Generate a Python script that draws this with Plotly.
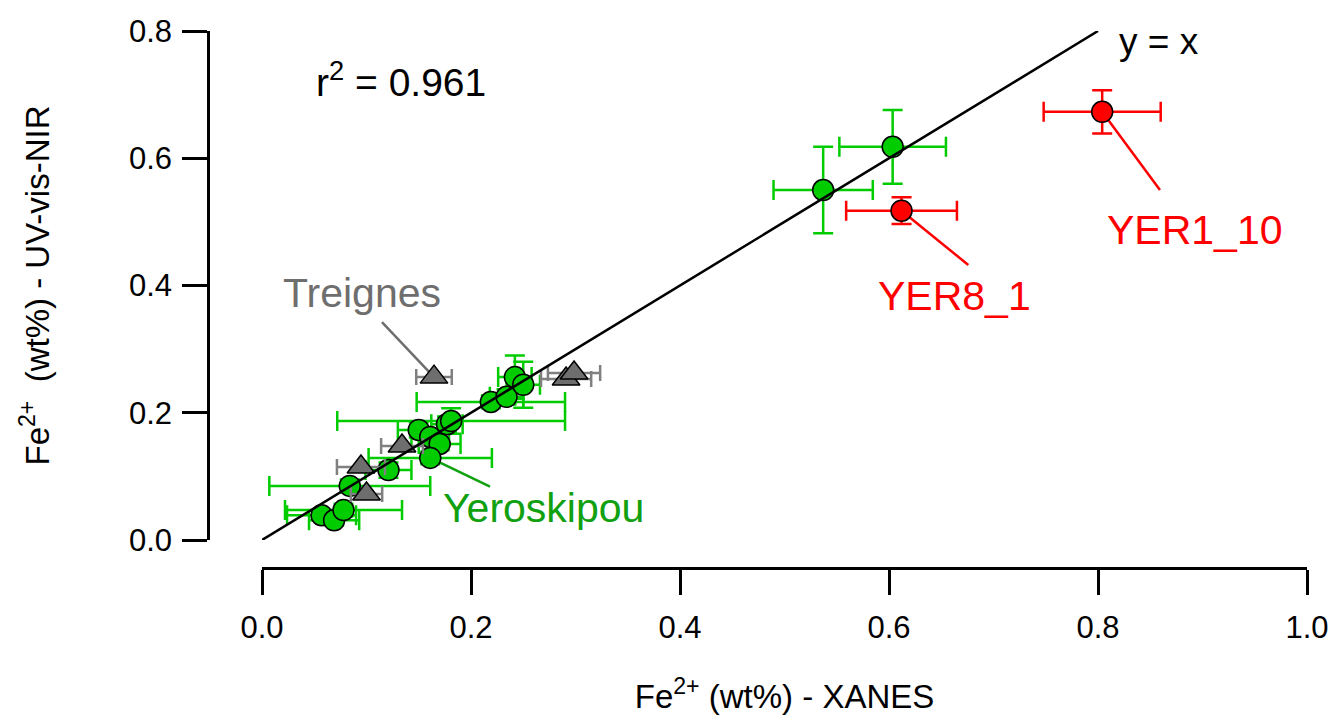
import plotly.graph_objects as go

# Yeroskipou samples (green circles)
yer_x = [0.057, 0.069, 0.078, 0.084, 0.121, 0.150, 0.161, 0.170, 0.161, 0.177,
         0.181, 0.219, 0.234, 0.242, 0.250, 0.537, 0.6035]
yer_y = [0.039, 0.031, 0.047, 0.085, 0.110, 0.173, 0.162, 0.151, 0.129, 0.182,
         0.187, 0.217, 0.225, 0.256, 0.244, 0.550, 0.618]
yer_xerr = [0.033, 0.024, 0.056, 0.077, 0.022, 0.020, 0.018, 0.020, 0.059, 0.015,
            0.109, 0.071, 0.016, 0.016, 0.016, 0.0475, 0.051]
yer_yerr = [0.008, 0.008, 0.010, 0.010, 0.012, 0.012, 0.010, 0.010, 0.010, 0.012,
            0.020, 0.010, 0.012, 0.034, 0.036, 0.068, 0.058]

# Treignes samples (grey triangles)
tre_x = [0.0947, 0.100, 0.134, 0.1646, 0.291, 0.2986]
tre_y = [0.1147, 0.0723, 0.1477, 0.256, 0.253, 0.2625]
tre_xerr = [0.023, 0.015, 0.020, 0.017, 0.024, 0.025]

# Outliers (red circles)
out_names = ["YER8_1", "YER1_10"]
out_x = [0.612, 0.804]
out_y = [0.5176, 0.673]
out_xerr = [0.053, 0.056]
out_yerr = [0.021, 0.034]

tick_vals_x = [0.0, 0.2, 0.4, 0.6, 0.8, 1.0]
tick_vals_y = [0.0, 0.2, 0.4, 0.6, 0.8]

FONT = "Liberation Sans, Arial, sans-serif"
GREEN = "#00cc00"
GREEN_TXT = "#10a010"
GREY = "#6e6e6e"
GREY_BAR = "#808080"
RED = "#ff0000"

fig = go.Figure()

fig.add_trace(go.Scatter(
    x=yer_x, y=yer_y, mode="markers",
    marker=dict(symbol="circle", size=21, color=GREEN, line=dict(color="black", width=1.5)),
    error_x=dict(type="data", array=yer_xerr, color=GREEN, thickness=2.5, width=10),
    error_y=dict(type="data", array=yer_yerr, color=GREEN, thickness=2.5, width=10),
    showlegend=False))

fig.add_trace(go.Scatter(
    x=out_x, y=out_y, mode="markers",
    marker=dict(symbol="circle", size=21, color=RED, line=dict(color="black", width=1.5)),
    error_x=dict(type="data", array=out_xerr, color=RED, thickness=2.5, width=10),
    error_y=dict(type="data", array=out_yerr, color=RED, thickness=2.5, width=10),
    showlegend=False))

fig.add_trace(go.Scatter(
    x=tre_x, y=tre_y, mode="markers",
    marker=dict(symbol="triangle-up", size=24, color=GREY, line=dict(color="black", width=1.5)),
    error_x=dict(type="data", array=tre_xerr, color=GREY_BAR, thickness=2.5, width=8),
    showlegend=False))

# 1:1 reference line
fig.add_trace(go.Scatter(
    x=[0.0, 0.8], y=[0.0, 0.8], mode="lines",
    line=dict(color="black", width=2.5), showlegend=False, hoverinfo="skip"))

# leader lines from labels to points
leaders = [
    (0.1148, 0.3426, tre_x[3], tre_y[3], GREY),
    (0.2182, 0.0838, yer_x[8], yer_y[8], GREEN_TXT),
    (0.6759, 0.4322, out_x[0], out_y[0], RED),
    (0.8593, 0.5501, out_x[1], out_y[1], RED),
]
for x0, y0, x1, y1, c in leaders:
    fig.add_shape(type="line", xref="x", yref="y", x0=x0, y0=y0, x1=x1, y1=y1,
                  line=dict(color=c, width=2.5), layer="below")

ann = [
    dict(text="Treignes", x=0.0957, y=0.388, font=dict(color=GREY, size=41)),
    dict(text="Yeroskipou", x=0.269, y=0.050, font=dict(color=GREEN_TXT, size=41)),
    dict(text=out_names[0], x=0.663, y=0.3835, font=dict(color=RED, size=41)),
    dict(text=out_names[1], x=0.893, y=0.487, font=dict(color=RED, size=41)),
    dict(text="y = x", x=0.818, y=0.783, xanchor="left", font=dict(color="black", size=37)),
    dict(text="r<sup>2</sup> = 0.961", x=0.050, y=0.723, xanchor="left",
         font=dict(color="black", size=39)),
]
for a in ann:
    a.setdefault("xanchor", "center")
    a["font"]["family"] = FONT
    fig.add_annotation(xref="x", yref="y", showarrow=False, yanchor="middle", **a)

W, H = 1332, 720
ml, mr, mt, mb = 208, 25, 31, 152
pw, ph = W - ml - mr, H - mt - mb

axis_common = dict(
    showline=True, linecolor="black", linewidth=2.5,
    ticks="outside", ticklen=25, tickwidth=2.5, tickcolor="black",
    showgrid=False, zeroline=False, automargin=False,
    tickfont=dict(family=FONT, size=31, color="black"),
)

fig.update_layout(
    width=W, height=H,
    margin=dict(l=ml, r=mr, t=mt, b=mb, pad=0),
    paper_bgcolor="white", plot_bgcolor="white",
    xaxis=dict(
        domain=[(262 - ml) / pw, 1], range=[0, 1], anchor="free", position=0,
        tickvals=tick_vals_x, ticktext=[f"{v:.1f}" for v in tick_vals_x],
        ticklabelstandoff=6,
        title=dict(text="Fe<sup>2+</sup> (wt%) - XANES",
                   font=dict(family=FONT, size=33, color="black"), standoff=40),
        **axis_common),
    yaxis=dict(
        domain=[(568 - 540) / ph, 1], range=[0, 0.8], anchor="free", position=0,
        tickvals=tick_vals_y, ticktext=[f"{v:.1f}" for v in tick_vals_y],
        ticklabelstandoff=4,
        title=dict(text="Fe<sup>2+</sup>  (wt%) - UV-vis-NIR",
                   font=dict(family=FONT, size=33, color="black"), standoff=68),
        **axis_common),
)

fig.write_html("out.html")
